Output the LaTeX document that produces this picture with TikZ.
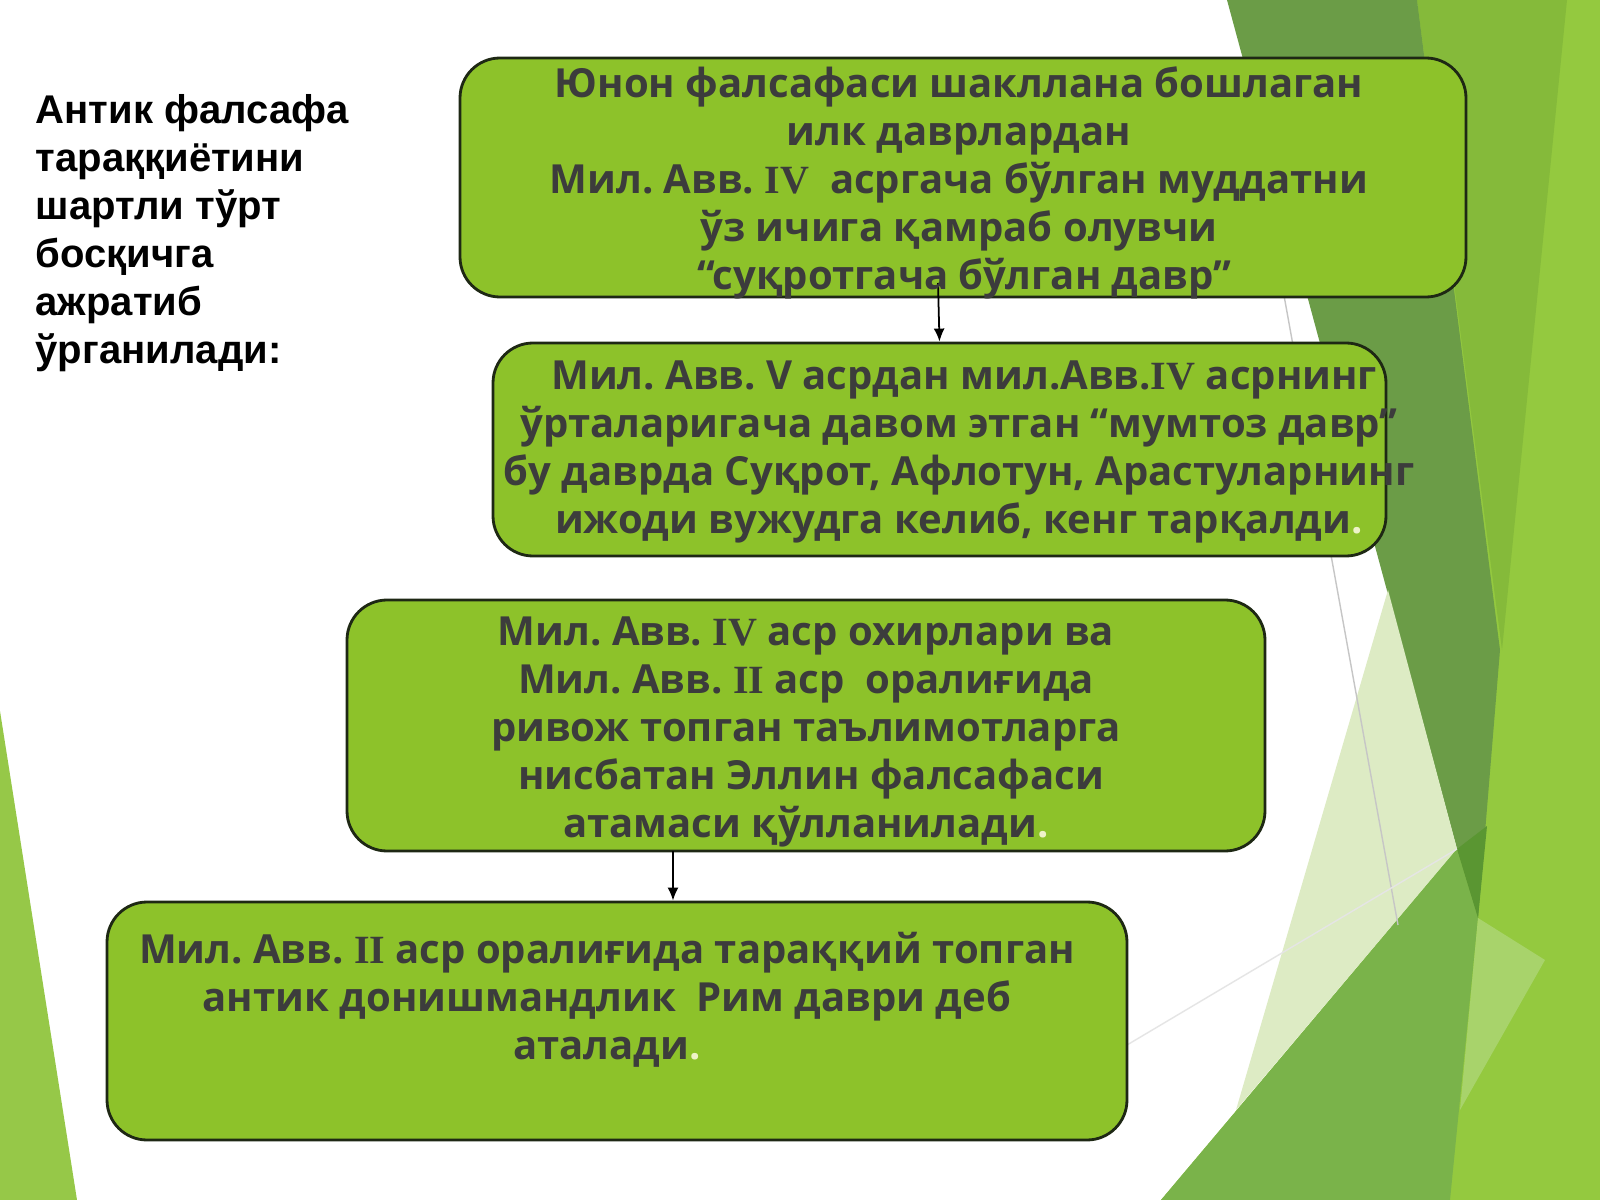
\documentclass[tikz,border=0pt]{standalone}
\usepackage{fontspec}
\setmainfont{Open Sans}
\newfontfamily\titlefont{Liberation Sans}
\newfontfamily\numfont{Liberation Serif}
\usetikzlibrary{arrows.meta}
\frenchspacing
\definecolor{boxgreen}{RGB}{141,194,42}
\definecolor{boxline}{RGB}{30,40,20}
\definecolor{txtgray}{RGB}{60,60,60}
\definecolor{facetdark}{RGB}{107,156,71}
\definecolor{facetmid}{RGB}{133,186,58}
\definecolor{facetbright}{RGB}{148,201,63}
\definecolor{facetlow}{RGB}{122,179,74}
\definecolor{facetpale}{RGB}{221,235,196}
\definecolor{facettip}{RGB}{90,150,50}
\definecolor{facetlight}{RGB}{168,211,107}
\definecolor{stripgreen}{RGB}{150,200,72}
\definecolor{dotcol}{RGB}{238,243,200}
\newcommand{\rnum}[1]{{\numfont\bfseries #1}}
\newcommand{\wdot}{{\color{dotcol}.}}
\tikzset{
  stagebox/.style={draw=boxline, line width=0.8pt, fill=boxgreen, rounded corners=4mm, inner sep=0pt},
  stagetext/.style={font=\fontsize{11.4}{13.66}\selectfont\bfseries, text=txtgray, align=center, inner sep=0pt},
  conn/.style={-{Latex[length=1.3mm,width=1.1mm]}, line width=0.5pt}
}
\begin{document}
\begin{tikzpicture}[x=0.1mm, y=-0.1mm]
    \useasboundingbox (0,0) rectangle (1600,1200); % page 1600 x 1200
    \fill[white] (0,0) rectangle (1600,1200);
    % background facets
    \fill[facetbright] (1417,0) -- (1600,0) -- (1600,1200) -- (1161,1200) -- (1457,849) -- cycle;
    \fill[facetmid] (1417,0) -- (1567,0) -- (1502,650) -- cycle;
    \fill[facetdark] (1227,0) -- (1417,0) -- (1500,650) -- (1478,918) -- (1457,849) -- cycle;
    \fill[facetpale] (1388,590) -- (1457,849) -- (1236,1110) -- cycle;
    \fill[facetlow] (1457,849) -- (1478,918) -- (1450,1200) -- (1161,1200) -- cycle;
    \fill[facettip] (1457,849) -- (1487,826) -- (1478,918) -- cycle;
    \fill[facetlight] (1478,918) -- (1545,960) -- (1460,1110) -- cycle;
    \fill[stripgreen] (0,711) -- (77,1200) -- (0,1200) -- cycle;
    \draw[gray!45, line width=0.4pt] (1283,290) -- (1398,925);
    \draw[gray!20, line width=0.4pt] (1457,849) -- (1127,1045);
    % stages
    \foreach \n/\x/\y/\w/\h in {b1/963/177.5/100.6/23.9, b2/939.5/449.5/89.3/21.3, b3/806/725.5/91.8/25.1, b4/617/1021/102.0/23.8}
      { \node[stagebox, minimum width=\w mm, minimum height=\h mm] (\n) at (\x,\y) {}; }
    \coordinate (a1) at (938,283);
    \coordinate (a2) at (673,851);
    \draw[conn] (a1) -- (b2.north);
    \draw[conn] (a2) -- (a2 |- b4.north);
    \node[stagetext] (t1) at (959,183) {Юнон фалсафаси шакллана бошлаган\\ илк даврлардан\\ Мил. Авв. \rnum{IV}~ асргача бўлган муддатни\\ ўз ичига қамраб олувчи\\ \ “суқротгача бўлган давр”};
    \node[stagetext] (t2) at (959,452) {\ Мил. Авв. V асрдан мил.Авв.\rnum{IV} асрнинг\\ ўрталаригача давом этган “мумтоз давр”\\ бу даврда Суқрот, Афлотун, Арастуларнинг\\ ижоди вужудга келиб, кенг тарқалди\wdot};
    \node[stagetext] (t3) at (806,732) {Мил. Авв. \rnum{IV} аср охирлари ва\\ Мил. Авв. \rnum{II} аср~ оралиғида\\ ривож топган таълимотларга\\ \ нисбатан Эллин фалсафаси\\ атамаси қўлланилади\wdot};
    \node[stagetext] (t4) at (607,1000) {Мил. Авв. \rnum{II} аср оралиғида тараққий топган\\ антик донишмандлик~ Рим даври деб\\ аталади\wdot};
    \node[font=\titlefont\bfseries\fontsize{11.4}{13.66}\selectfont, align=left, anchor=north west, inner sep=0pt] (title) at (35,94)
      {Антик фалсафа\\ тараққиётини\\ шартли тўрт\\ босқичга\\ ажратиб\\ ўрганилади:};
\end{tikzpicture}
\end{document}
